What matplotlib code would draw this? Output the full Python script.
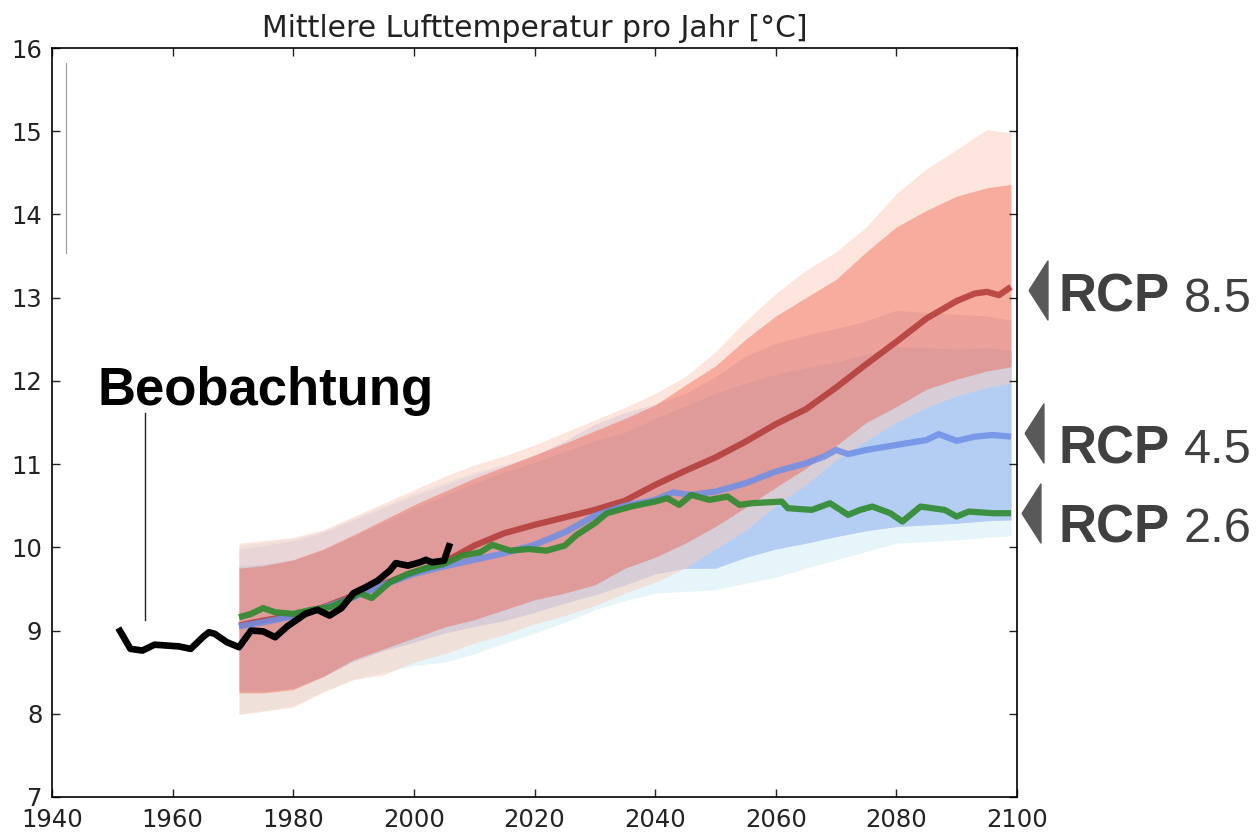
import numpy as np
import matplotlib
matplotlib.use('Agg')
import matplotlib.pyplot as plt

# Beobachtung (Jahresmittel, geglaettet)
obs_years = [1951, 1953, 1955, 1957, 1959, 1961, 1963, 1965, 1966, 1967, 1969, 1971, 1973,
             1975, 1977, 1979, 1980, 1982, 1984, 1986, 1988, 1990, 1992, 1994, 1996, 1997,
             1999, 2001, 2002, 2003, 2005, 2006]
obs_temp = [9.03, 8.78, 8.76, 8.83, 8.82, 8.81, 8.78, 8.92, 8.98, 8.96, 8.86, 8.80, 9.00,
            8.99, 8.92, 9.05, 9.10, 9.20, 9.25, 9.18, 9.27, 9.45, 9.52, 9.60, 9.72, 9.81,
            9.78, 9.82, 9.85, 9.82, 9.84, 10.05]

# Bandbreiten der Szenarien
band_years = [1971, 1975, 1980, 1985, 1990, 1995, 2000, 2005, 2010, 2015, 2020, 2025, 2030,
              2035, 2040, 2045, 2050, 2055, 2060, 2065, 2070, 2075, 2080, 2085, 2090, 2095, 2099]

r26_lo = [8.00, 8.04, 8.10, 8.27, 8.42, 8.50, 8.58, 8.62, 8.72, 8.85, 8.97, 9.10, 9.25,
          9.36, 9.45, 9.47, 9.49, 9.57, 9.64, 9.75, 9.85, 9.95, 10.05, 10.07, 10.09, 10.12, 10.14]
r26_hi = [10.03, 10.06, 10.10, 10.20, 10.35, 10.50, 10.65, 10.78, 10.90, 11.00, 11.10, 11.20, 11.30,
          11.38, 11.45, 11.50, 11.52, 11.55, 11.55, 11.58, 11.60, 11.60, 11.62, 11.62, 11.60, 11.60, 11.60]

r45_lo = [8.27, 8.27, 8.31, 8.45, 8.63, 8.76, 8.86, 8.97, 9.05, 9.12, 9.22, 9.33, 9.43,
          9.55, 9.68, 9.75, 9.75, 9.88, 9.98, 10.05, 10.13, 10.20, 10.25, 10.27, 10.29, 10.32, 10.33]
r45_hi = [9.78, 9.80, 9.85, 9.97, 10.13, 10.30, 10.47, 10.62, 10.77, 10.90, 11.02, 11.15, 11.28,
          11.38, 11.55, 11.70, 11.85, 11.97, 12.08, 12.16, 12.22, 12.32, 12.41, 12.40, 12.38, 12.40, 12.37]
r45_hi_outer = [9.98, 10.02, 10.08, 10.18, 10.33, 10.48, 10.62, 10.75, 10.88, 10.98, 11.10, 11.28, 11.48,
                11.62, 11.72, 11.85, 12.05, 12.30, 12.45, 12.55, 12.63, 12.72, 12.85, 12.82, 12.80, 12.78, 12.73]

r85_lo_outer = [7.99, 8.03, 8.08, 8.26, 8.41, 8.47, 8.62, 8.72, 8.85, 8.95, 9.08, 9.18, 9.30,
                9.45, 9.58, 9.75, 9.98, 10.20, 10.50, 10.75, 11.05, 11.28, 11.50, 11.68, 11.82, 11.92, 11.97]
r85_lo = [8.25, 8.25, 8.29, 8.45, 8.65, 8.78, 8.91, 9.04, 9.13, 9.25, 9.37, 9.45, 9.55,
          9.75, 9.88, 10.05, 10.25, 10.48, 10.72, 10.95, 11.22, 11.50, 11.69, 11.90, 12.02, 12.12, 12.17]
r85_hi = [9.75, 9.78, 9.85, 9.98, 10.15, 10.33, 10.51, 10.67, 10.83, 10.97, 11.11, 11.25, 11.40,
          11.55, 11.71, 11.95, 12.18, 12.50, 12.78, 13.00, 13.22, 13.55, 13.85, 14.05, 14.22, 14.32, 14.36]
r85_hi_outer = [10.05, 10.08, 10.12, 10.21, 10.37, 10.53, 10.69, 10.85, 10.99, 11.10, 11.23, 11.38, 11.53,
                11.68, 11.85, 12.05, 12.35, 12.72, 13.05, 13.33, 13.55, 13.85, 14.25, 14.55, 14.78, 15.02, 14.98]

# Mittelwerte der Szenarien
r85_years = [1971, 1975, 1980, 1985, 1990, 1995, 2000, 2005, 2010, 2015, 2020, 2025, 2030, 2035,
             2040, 2045, 2050, 2055, 2060, 2065, 2070, 2075, 2080, 2085, 2090, 2093, 2095, 2097, 2099]
r85_mean = [9.06, 9.12, 9.18, 9.28, 9.42, 9.56, 9.70, 9.82, 10.02, 10.17, 10.27, 10.36, 10.45, 10.56,
            10.75, 10.92, 11.08, 11.27, 11.48, 11.66, 11.92, 12.20, 12.47, 12.75, 12.96, 13.05, 13.07, 13.03, 13.13]

r45_years = [1971, 1975, 1980, 1985, 1990, 1995, 2000, 2005, 2010, 2015, 2020, 2025, 2030, 2035,
             2040, 2043, 2046, 2050, 2055, 2060, 2065, 2068, 2070, 2072, 2075, 2080, 2085, 2087,
             2090, 2093, 2096, 2099]
r45_mean = [9.05, 9.10, 9.17, 9.27, 9.40, 9.55, 9.68, 9.77, 9.85, 9.93, 10.03, 10.18, 10.38, 10.50,
            10.57, 10.66, 10.63, 10.67, 10.77, 10.91, 11.01, 11.09, 11.17, 11.12, 11.17, 11.23, 11.29, 11.36,
            11.28, 11.33, 11.35, 11.33]

r26_years = [1971, 1973, 1975, 1977, 1980, 1983, 1986, 1989, 1991, 1993, 1996, 1999, 2002, 2005,
             2008, 2011, 2013, 2016, 2019, 2022, 2025, 2027, 2030, 2032, 2036, 2040, 2042, 2044,
             2046, 2049, 2052, 2054, 2056, 2061, 2062, 2066, 2069, 2072, 2074, 2076, 2079, 2081,
             2084, 2088, 2090, 2092, 2096, 2099]
r26_mean = [9.16, 9.20, 9.27, 9.22, 9.20, 9.25, 9.28, 9.37, 9.45, 9.39, 9.58, 9.68, 9.75, 9.80,
            9.90, 9.94, 10.03, 9.96, 9.98, 9.96, 10.02, 10.15, 10.29, 10.41, 10.49, 10.55, 10.59, 10.51,
            10.63, 10.57, 10.61, 10.51, 10.53, 10.55, 10.47, 10.45, 10.53, 10.39, 10.45, 10.49, 10.41, 10.31,
            10.49, 10.45, 10.37, 10.43, 10.41, 10.41]

scenario_names = ['8.5', '4.5', '2.6']

plt.rcParams['xtick.direction'] = 'in'
plt.rcParams['ytick.direction'] = 'in'
plt.rcParams['xtick.top'] = True
plt.rcParams['ytick.right'] = True

fig = plt.figure(figsize=(12.57, 8.32), dpi=100)
ax = fig.add_axes([52 / 1257, 1 - 797 / 832, 965 / 1257, 749 / 832])

# Baender (Reihenfolge: 2.6 unten, 8.5 oben)
ax.fill_between(band_years, r26_lo, r26_hi, color='#e6f5f9', lw=0)
ax.fill_between(band_years, r45_lo, r45_hi_outer, color='#d8def4', lw=0)
ax.fill_between(band_years, r45_lo, r45_hi, color='#b4cdf2', lw=0)
ax.fill_between(band_years, r85_lo_outer, r85_hi_outer, color='#fbcdbd', alpha=0.5, lw=0)
ax.fill_between(band_years, r85_lo, r85_hi, color='#f02a0a', alpha=0.3, lw=0)

ax.plot(r85_years, r85_mean, color='#b23a36', lw=4.5, alpha=0.85, solid_capstyle='butt')
ax.plot(r45_years, r45_mean, color='#6f8fe6', lw=4.5, alpha=0.85, solid_capstyle='butt')
ax.plot(r26_years, r26_mean, color='#2f8a2f', lw=4.5, alpha=0.9, solid_capstyle='butt')
ax.plot(obs_years, obs_temp, color='black', lw=4.8, solid_capstyle='butt')

# Beschriftung Beobachtung
ax.plot([1955.4, 1955.4], [9.13, 11.62], color='#222222', lw=1.0)
ax.text(1975.5, 11.71, 'Beobachtung', family='Liberation Sans', weight='bold',
        fontsize=38, ha='center', va='baseline', color='black')

# duenne graue Linie oben links
ax.plot([1942.4, 1942.4], [13.54, 15.82], color='#999999', lw=0.8)

ax.set_xlim(1940, 2100)
ax.set_ylim(7, 16)
ax.set_xticks(range(1940, 2101, 20))
ax.set_yticks(range(7, 17))
ax.tick_params(labelsize=17.5, length=6, width=1, colors='#222222')
ax.tick_params(axis='x', pad=8)
ax.tick_params(axis='y', pad=7)
for sp in ax.spines.values():
    sp.set_linewidth(1.2)
ax.set_title('Mittlere Lufttemperatur pro Jahr [°C]', fontsize=21.5, pad=8, color='#222222')

# RCP-Marken rechts
tri = [(-0.16, 0.0), (0.16, 0.5), (0.16, -0.5), (-0.16, 0.0)]
tri_x = [2103.4, 2102.8, 2102.3]
tri_y = [13.09, 11.375, 10.41]
label_y = [12.83, 11.01, 10.06]
for name, tx, ty, ly in zip(scenario_names, tri_x, tri_y, label_y):
    ax.plot([tx], [ty], marker=tri, markersize=42.5, color='#595959', mec='#595959',
            clip_on=False, linestyle='none')
    ax.text(2106.8, ly, 'RCP', family='Liberation Sans', weight='bold', fontsize=38,
            color='#404040', va='baseline', ha='left')
    ax.text(2127.6, ly, name, family='Liberation Sans', fontsize=35,
            color='#404040', va='baseline', ha='left')

fig.savefig('out.png', dpi=100)
